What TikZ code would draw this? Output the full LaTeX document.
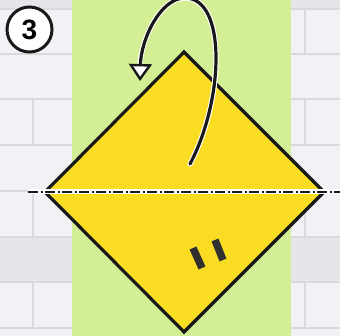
\documentclass[tikz,border=0pt]{standalone}
\usepackage{fontspec}
\newfontfamily\stepfont{Liberation Sans}
\usetikzlibrary{arrows.meta,calc}
\definecolor{ogYellow}{RGB}{250,221,35}
\definecolor{ogGreen}{RGB}{212,239,147}
\definecolor{ogBrick}{RGB}{240,242,246}
\definecolor{ogShade}{RGB}{228,230,234}
\definecolor{ogMortar}{RGB}{216,218,223}
\definecolor{ogInk}{RGB}{25,25,25}

\begin{document}
\begin{tikzpicture}[x=1pt, y=-1pt,
  mortar/.style={ogMortar, line width=2pt},
  foldline/.style={line width=2.8pt, dash pattern=on 10pt off 2.5pt on 2pt off 2.5pt},
  turnarrow/.style={line width=3.2pt, line cap=round}]
  \useasboundingbox (0,0) rectangle (340,336);

  % Wall
  \fill[ogBrick] (0,0) rectangle (340,336);
  \fill[ogShade] (0,0) rectangle (340,9);
  \fill[ogShade] (0,237) rectangle (340,282);
  \foreach \y in {9,54,99,145,191,237,282,328}
    \draw[mortar] (0,\y) -- (340,\y);
  \foreach \y in {99,191,282}
    \draw[mortar] (33,\y) -- (33,\y+46);
  \foreach \y in {9,99,191,282}
    \draw[mortar] (305,\y) -- (305,\y+46);

  % Paper strip
  \fill[ogGreen] (72,0) rectangle (291,336);

  % Square turned as a diamond
  \coordinate (top) at (184,52);
  \coordinate (left) at (45,192);
  \coordinate (bottom) at (184,332);
  \coordinate (right) at (324,192);
  \filldraw[fill=ogYellow, draw=ogInk, line width=3.2pt, line join=miter]
    (top) -- (right) -- (bottom) -- (left) -- cycle;

  % Fold line
  \coordinate (foldA) at (28,192);
  \coordinate (foldB) at (340,192);
  \draw[white, line width=5pt] (foldA) -- (foldB);
  \draw[ogInk, foldline] (foldA) -- (foldB);

  % Marks
  \draw[ogInk!90, line width=7.5pt] (193,248) -- (202,268);
  \draw[ogInk!90, line width=7.5pt] (215,240) -- (223,260);

  % Turn over arrow
  \coordinate (turnA) at (190,164);
  \coordinate (turnB) at (140,81);
  \draw[white, turnarrow, line width=5.4pt]
    (turnA) .. controls (224,100) and (227,-2) .. (185,-2)
            .. controls (160,-2) and (141,40) .. ($(turnB)+(0,-16)$);
  \draw[ogInk, turnarrow, -{Triangle[width=23pt, length=17pt, fill=white, line width=2.4pt]}]
    (turnA) .. controls (224,100) and (227,-2) .. (185,-2)
            .. controls (160,-2) and (141,40) .. (turnB);

  % Step number
  \node[circle, draw=ogInk, fill=white, line width=3pt, minimum size=45pt, inner sep=0pt]
    (stepno) at (29.5,29.5) {\stepfont\fontsize{28}{28}\selectfont\bfseries 3};
\end{tikzpicture}
\end{document}
